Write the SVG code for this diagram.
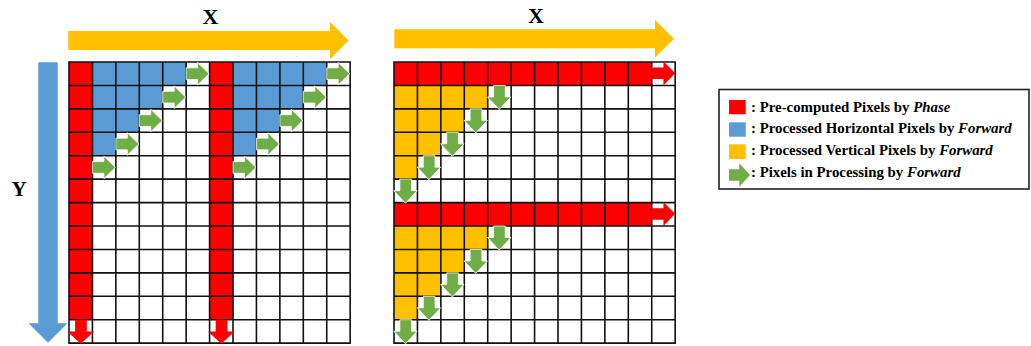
<svg xmlns="http://www.w3.org/2000/svg" xmlns:xlink="http://www.w3.org/1999/xlink" width="1031" height="346" viewBox="0 0 1031 346">
  <style>
    .lbl { font-family: "Liberation Serif", "Times New Roman", serif; font-weight: bold; fill: #000; }
    .leg { font-family: "Liberation Serif", "Times New Roman", serif; font-weight: bold; font-size: 14.85px; fill: #000; }
    .it { font-style: italic; }
    .red { fill: #FF0000; }
    .blue { fill: #5B9BD5; }
    .yel { fill: #FFC000; }
    .grn { fill: #70AD47; }
    .grid { fill: none; stroke: #111; stroke-width: 1.6; stroke-linecap: square; vector-effect: non-scaling-stroke; }
    .edge { stroke: #fff; stroke-width: 0.8; vector-effect: non-scaling-stroke; }
  </style>
  <defs>
    <!-- 12 x 12 cell grid in unit coordinates -->
    <path id="grid" class="grid" d="M0 0V12M1 0V12M2 0V12M3 0V12M4 0V12M5 0V12M6 0V12M7 0V12M8 0V12M9 0V12M10 0V12M11 0V12M12 0V12M0 0H12M0 1H12M0 2H12M0 3H12M0 4H12M0 5H12M0 6H12M0 7H12M0 8H12M0 9H12M0 10H12M0 11H12M0 12H12"/>
    <!-- one-cell block arrows -->
    <path id="gRight" class="grn edge" d="M0 0.25H0.49V0.02L0.98 0.5L0.49 0.98V0.75H0Z"/>
    <path id="gDown" class="grn edge" d="M0.25 0H0.75V0.49H0.99L0.49 1.03L-0.01 0.49H0.25Z"/>
    <path id="rRight" class="red" d="M0 0.24H0.5V-0.03L1 0.48L0.5 1V0.73H0Z"/>
    <path id="rDown" class="red" d="M0.26 0H0.76V0.5H1.07L0.5 1.03L-0.07 0.5H0.26Z"/>
  </defs>

  <rect width="1031" height="346" fill="#fff"/>

  <!-- axis arrows -->
  <g id="axis-x-left">
    <polygon class="yel" points="68.3,31 330,31 330,21.7 348.5,40.5 330,59.3 330,50 68.3,50"/>
    <text class="lbl" x="210.5" y="24" font-size="22" text-anchor="middle">X</text>
  </g>
  <g id="axis-x-right">
    <polygon class="yel" points="394.3,29.3 655,29.3 655,20 674,38.8 655,57.6 655,48.3 394.3,48.3"/>
    <text class="lbl" x="536" y="23.3" font-size="22" text-anchor="middle">X</text>
  </g>
  <g id="axis-y">
    <polygon class="blue" points="38.3,62.3 57.7,62.3 57.7,323.3 67.5,323.3 48,342.7 28.5,323.3 38.3,323.3"/>
    <text class="lbl" x="19" y="195.7" font-size="21" text-anchor="middle">Y</text>
  </g>

  <!-- left grid: column-wise pre-computed pixels, horizontal processing -->
  <g id="grid-left" transform="translate(69 62) scale(23.43)">
    <rect class="red" x="0" y="0" width="1" height="11"/>
    <rect class="red" x="6" y="0" width="1" height="11"/>
    <path class="blue" d="M1 0H5V1H4V2H3V3H2V4H1Z"/>
    <path class="blue" d="M7 0H11V1H10V2H9V3H8V4H7Z"/>
    <use xlink:href="#grid"/>
    <use xlink:href="#gRight" x="5" y="0"/>
    <use xlink:href="#gRight" x="4" y="1"/>
    <use xlink:href="#gRight" x="3" y="2"/>
    <use xlink:href="#gRight" x="2" y="3"/>
    <use xlink:href="#gRight" x="1" y="4"/>
    <use xlink:href="#gRight" x="11" y="0"/>
    <use xlink:href="#gRight" x="10" y="1"/>
    <use xlink:href="#gRight" x="9" y="2"/>
    <use xlink:href="#gRight" x="8" y="3"/>
    <use xlink:href="#gRight" x="7" y="4"/>
    <use xlink:href="#rDown" x="0" y="11"/>
    <use xlink:href="#rDown" x="6" y="11"/>
  </g>

  <!-- right grid: row-wise pre-computed pixels, vertical processing -->
  <g id="grid-right" transform="translate(394 62) scale(23.43)">
    <rect class="red" x="0" y="0" width="11" height="1"/>
    <rect class="red" x="0" y="6" width="11" height="1"/>
    <path class="yel" d="M0 1H4V2H3V3H2V4H1V5H0Z"/>
    <path class="yel" d="M0 7H4V8H3V9H2V10H1V11H0Z"/>
    <use xlink:href="#grid"/>
    <use xlink:href="#gDown" x="4" y="1"/>
    <use xlink:href="#gDown" x="3" y="2"/>
    <use xlink:href="#gDown" x="2" y="3"/>
    <use xlink:href="#gDown" x="1" y="4"/>
    <use xlink:href="#gDown" x="0" y="5"/>
    <use xlink:href="#gDown" x="4" y="7"/>
    <use xlink:href="#gDown" x="3" y="8"/>
    <use xlink:href="#gDown" x="2" y="9"/>
    <use xlink:href="#gDown" x="1" y="10"/>
    <use xlink:href="#gDown" x="0" y="11"/>
    <use xlink:href="#rRight" x="11" y="0"/>
    <use xlink:href="#rRight" x="11" y="6"/>
  </g>

  <!-- legend -->
  <g id="legend">
    <rect x="719" y="89.5" width="310" height="99.5" fill="#fff" stroke="#222" stroke-width="1.6"/>
    <rect class="red" x="729" y="100" width="16.7" height="14.3"/>
    <rect class="blue" x="729" y="122.3" width="16.7" height="14.4"/>
    <rect class="yel" x="729" y="144.3" width="16.7" height="14.7"/>
    <path class="grn" d="M729 169.3H739.3V163.3L750 175L739.3 186.7V180.7H729Z"/>
    <text class="leg" x="751" y="111.7">: Pre-computed Pixels by <tspan class="it">Phase</tspan></text>
    <text class="leg" x="751" y="133.3">: Processed Horizontal Pixels by <tspan class="it">Forward</tspan></text>
    <text class="leg" x="751" y="155">: Processed Vertical Pixels by <tspan class="it">Forward</tspan></text>
    <text class="leg" x="751" y="176.7">: Pixels in Processing by <tspan class="it">Forward</tspan></text>
  </g>
</svg>
